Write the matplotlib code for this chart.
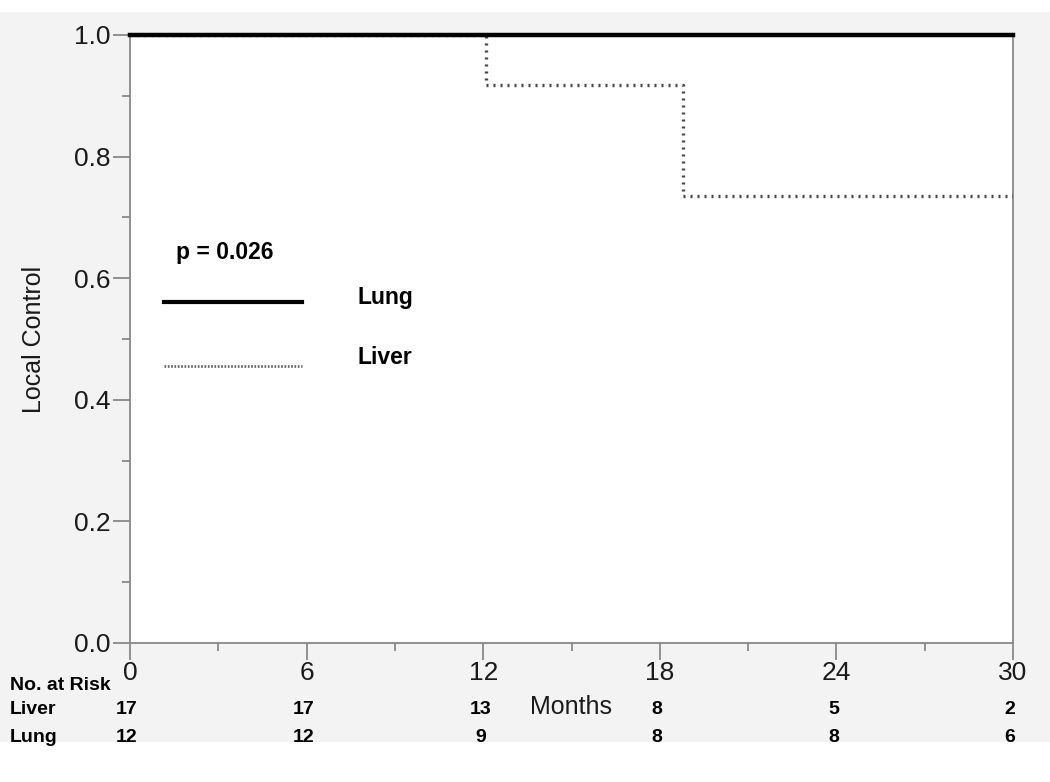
# Kaplan-Meier local control: Lung vs Liver

import numpy as np
import matplotlib.pyplot as plt
from matplotlib.patches import Rectangle

plt.rcParams['font.family'] = ['Liberation Sans', 'DejaVu Sans']

# Step 1: data
lung_t = [0, 30]
lung_s = [1.0, 1.0]
liver_t = [0, 12.1, 18.8, 30]
liver_s = [1.0, 0.918, 0.736, 0.736]

# number at risk table
risk_months = [0, 6, 12, 18, 24, 30]
risk_liver = [17, 17, 13, 8, 5, 2]
risk_lung = [12, 12, 9, 8, 8, 6]
p_text = 'p = 0.026'

# Step 2: figure and axes
fig = plt.figure(figsize=(10.5, 7.82), dpi=100, facecolor='#f3f3f3')
fig.patches.append(Rectangle((0, 1 - 12 / 782), 1, 12 / 782, transform=fig.transFigure,
                             facecolor='white', edgecolor='none', zorder=-1))
fig.patches.append(Rectangle((0, 0), 1, 1 - 742 / 782, transform=fig.transFigure,
                             facecolor='white', edgecolor='none', zorder=-1))
ax = fig.add_axes([130 / 1050, 1 - 643 / 782, 883 / 1050, 608 / 782])
ax.set_facecolor('white')

# Step 3: curves
ax.step(liver_t, liver_s, where='post', color='#444444', lw=2.4,
        linestyle=(0, (0.6, 1.5)), zorder=3)
ax.step(lung_t, lung_s, where='post', color='black', lw=3.2, zorder=4,
        clip_on=False)

ax.set_xlim(0, 30)
ax.set_ylim(0, 1.0)
ax.set_xticks(risk_months)
ax.set_xticks(np.arange(3, 30, 6), minor=True)
ax.set_yticks([0, 0.2, 0.4, 0.6, 0.8, 1.0])
ax.set_yticks([0.1, 0.3, 0.5, 0.7, 0.9], minor=True)
ax.set_yticklabels(['0.0', '0.2', '0.4', '0.6', '0.8', '1.0'])
for s in ax.spines.values():
    s.set_color('#888888')
    s.set_linewidth(1.3)
ax.tick_params(which='major', length=12, width=1.3, color='#888888',
               labelsize=19, labelcolor='#1a1a1a', pad=2)
ax.tick_params(axis='x', which='major', pad=1)
ax.tick_params(which='minor', length=6, width=1.3, color='#888888')
ax.set_ylabel('Local Control', fontsize=18, color='#1a1a1a', labelpad=20)
ax.set_xlabel('Months', fontsize=18, color='#1a1a1a', labelpad=7)

# Step 4: legend drawn by hand
ax.text(0.052, 0.642, p_text, transform=ax.transAxes, fontsize=16.5,
        fontweight='bold', va='center')
ax.plot([0.038, 0.195], [0.561, 0.561], transform=ax.transAxes,
        color='black', lw=3)
ax.text(0.258, 0.568, 'Lung', transform=ax.transAxes, fontsize=16.5,
        fontweight='bold', va='center')
ax.plot([0.038, 0.195], [0.455, 0.455], transform=ax.transAxes,
        color='#666666', lw=2, linestyle=(0, (0.6, 0.6)))
ax.text(0.258, 0.469, 'Liver', transform=ax.transAxes, fontsize=16.5,
        fontweight='bold', va='center')

# Step 5: number at risk table
trans = ax.get_xaxis_transform()
fig.text(10 / 1050, 1 - 685 / 782, 'No. at Risk', fontsize=14,
         fontweight='bold', va='center')
fig.text(10 / 1050, 1 - 709 / 782, 'Liver', fontsize=14,
         fontweight='bold', va='center')
fig.text(10 / 1050, 1 - 738 / 782, 'Lung', fontsize=14,
         fontweight='bold', va='center')
y_liver = (643 - 709) / 608
y_lung = (643 - 738) / 608
for m, a, b in zip(risk_months, risk_liver, risk_lung):
    ax.text(m - 0.1, y_liver, str(a), transform=trans, ha='center',
            va='center', fontsize=14, fontweight='bold', clip_on=False)
    ax.text(m - 0.1, y_lung, str(b), transform=trans, ha='center',
            va='center', fontsize=14, fontweight='bold', clip_on=False)

plt.savefig('out.png', dpi=100, facecolor=fig.get_facecolor())
